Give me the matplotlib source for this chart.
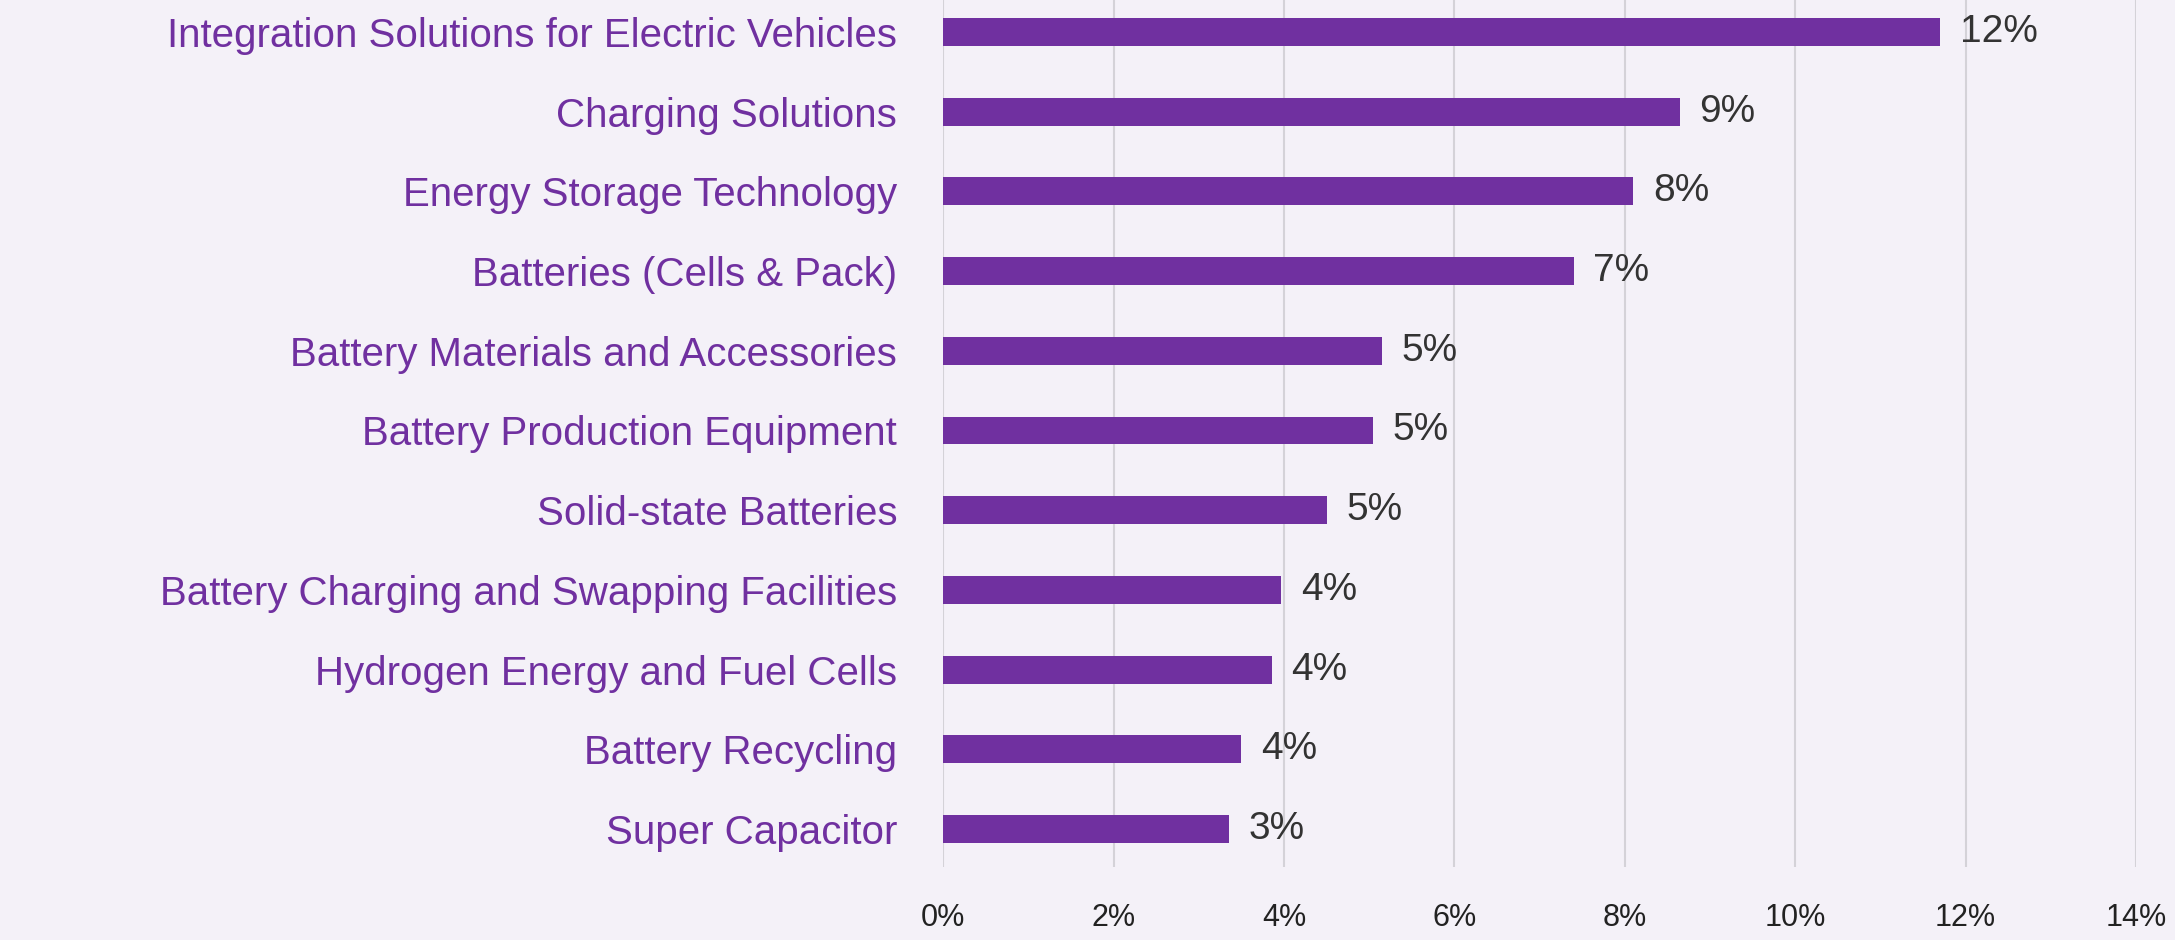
import numpy as np
import matplotlib
matplotlib.use("Agg")
import matplotlib.pyplot as plt

categories = [
    "Integration Solutions for Electric Vehicles",
    "Charging Solutions",
    "Energy Storage Technology",
    "Batteries (Cells & Pack)",
    "Battery Materials and Accessories",
    "Battery Production Equipment",
    "Solid-state Batteries",
    "Battery Charging and Swapping Facilities",
    "Hydrogen Energy and Fuel Cells",
    "Battery Recycling",
    "Super Capacitor",
]
values = [11.7, 8.65, 8.1, 7.4, 5.15, 5.05, 4.5, 3.97, 3.86, 3.5, 3.36]
value_labels = ["12%", "9%", "8%", "7%", "5%", "5%", "5%", "4%", "4%", "4%", "3%"]
xticks = [0, 2, 4, 6, 8, 10, 12, 14]

plt.rcParams["font.family"] = ["Liberation Sans", "DejaVu Sans"]

purple = "#7030A0"
bg = "#F4F1F8"

fig = plt.figure(figsize=(21.75, 9.4), dpi=100, facecolor=bg)
ax = fig.add_axes([0.4336, 0.0777, 0.5485, 0.9223], facecolor=bg)

y = np.arange(len(categories))
ax.barh(y, values, height=0.35, color=purple, zorder=3)

# etiquettes de valeur au bout des barres
for yi, v, lab in zip(y, values, value_labels):
    ax.annotate(lab, (v, yi), xytext=(14, 0), textcoords="offset points",
                va="center", ha="left", fontsize=28, color="#333333")

ax.set_xlim(0, 14)
ax.set_ylim(10.475, -0.4)
ax.set_xticks(xticks)
ax.set_xticklabels([f"{t}%" for t in xticks], fontsize=22, color="#222222")
ax.set_yticks(y)
ax.set_yticklabels(categories, fontsize=29, color=purple)
ax.tick_params(axis="x", length=0, pad=26)
ax.tick_params(axis="y", length=0, pad=33)
ax.grid(axis="x", color="#D4D2D8", linewidth=1.5, zorder=0)
for s in ax.spines.values():
    s.set_visible(False)

fig.savefig("out.png", dpi=100, facecolor=bg)
